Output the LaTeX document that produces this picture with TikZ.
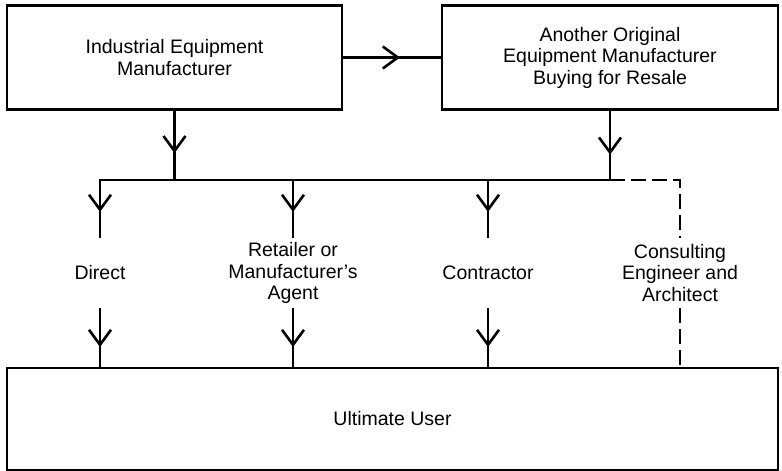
\documentclass[tikz,border=0pt]{standalone}
\usepackage{fontspec}
\setmainfont{Liberation Sans}
\usetikzlibrary{arrows.meta,decorations.markings,positioning}

\tikzset{
  box/.style={draw, line width=2.4pt, align=center, inner sep=0pt, outer sep=0pt},
  lbl/.style={align=center, inner sep=0pt},
  flow/.style={line width=2.6pt},
  midarrow/.style={postaction={decorate,decoration={markings,
      mark=at position #1 with {\arrow{Straight Barb[length=15pt,width=22pt]}}}}},
  advice/.style={line width=2.6pt, dash pattern=on 15pt off 6pt}
}

\begin{document}
\begin{tikzpicture}[x=1pt,y=-1pt,font=\fontsize{19.5}{21.5}\selectfont]
\useasboundingbox (0,0) rectangle (782,471);

% Manufacturers
\node[box, minimum width=335pt, minimum height=104pt] (ind) at (174.5,57.5) {Industrial Equipment\\Manufacturer};
\node[box, minimum width=336pt, minimum height=104pt] (oem) at (610,57.5) {Another Original\\Equipment Manufacturer\\Buying for Resale};

% Ultimate user
\node[box, minimum width=771pt, minimum height=102pt] (user) at (392.5,419) {Ultimate User};

% Channels
\node[lbl] (direct) at (100,273) {Direct};
\node[lbl] (agent) at (293,273) {Retailer or\\Manufacturer's\\Agent};
\node[lbl] (contr) at (488,273) {Contractor};
\node[lbl] (consult) at (680,273) {Consulting\\Engineer and\\Architect};

% Bus and ends of the drops
\coordinate (busL) at (100,180);
\coordinate (busI) at (ind.south |- busL);
\coordinate (busO) at (oem.south |- busL);
\coordinate (upend) at (0,238);
\coordinate (lowstart) at (0,308);

\draw[flow, midarrow=0.58] (ind.east) -- (oem.west);
\draw[flow, midarrow=0.62] (ind.south) -- (busI);
\draw[flow, midarrow=0.64] (oem.south) -- (busO);
\draw[flow, line cap=rect] (busL) -- (busO);

\foreach \n in {direct,agent,contr} {
  \draw[flow, midarrow=0.55] (\n |- busL) -- (\n |- upend);
  \draw[flow, midarrow=0.65] (\n |- lowstart) -- (\n |- user.north);
}

% Consulting engineer (dashed)
\draw[advice] (busO) -| (consult |- upend);
\draw[advice] (consult |- lowstart) -- (consult |- user.north);
\end{tikzpicture}
\end{document}
